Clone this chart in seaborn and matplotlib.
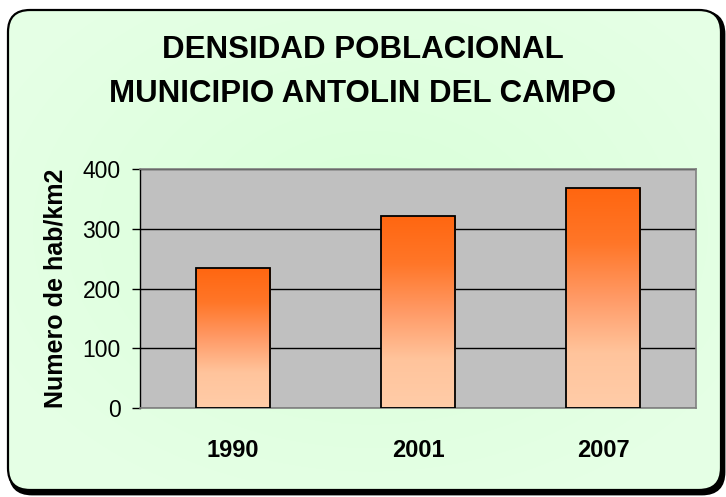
import matplotlib
matplotlib.use("Agg")
import matplotlib.pyplot as plt
import numpy as np
import pandas as pd
import seaborn as sns
from matplotlib.patches import FancyBboxPatch
from matplotlib.colors import LinearSegmentedColormap

# data
years = ["1990", "2001", "2007"]
densidad = [235, 322, 368]
y_ticks = [0, 100, 200, 300, 400]

title = "DENSIDAD POBLACIONAL\nMUNICIPIO ANTOLIN DEL CAMPO"
y_label = "Numero de hab/km2"

sns.set_theme(style="white")
plt.rcParams['font.family'] = ['Liberation Sans', 'DejaVu Sans']
plt.rcParams['text.color'] = 'black'
plt.rcParams['axes.labelcolor'] = 'black'
plt.rcParams['xtick.color'] = 'black'
plt.rcParams['ytick.color'] = 'black'

W, H = 726, 497
fig = plt.figure(figsize=(W / 100, H / 100), dpi=100)
fig.patch.set_facecolor("white")

# background: rounded frame with soft green radial gradient
bg = fig.add_axes([0, 0, 1, 1], zorder=-10)
bg.set_xlim(0, W)
bg.set_ylim(H, 0)
bg.axis("off")
yy, xx = np.mgrid[0:H, 0:W]
r = np.sqrt(((xx - 370) / 420.0) ** 2 + ((yy - 230) / 300.0) ** 2)
r = np.clip(r, 0, 1)
c_in = np.array([0.85, 1.0, 0.85])
c_out = np.array([0.90, 1.0, 0.90])
img = c_in[None, None, :] * (1 - r[..., None]) + c_out[None, None, :] * r[..., None]
shadow = FancyBboxPatch((10, 12), 714, 482, boxstyle="round,pad=0,rounding_size=22",
                        facecolor="black", edgecolor="black", lw=2)
bg.add_patch(shadow)
frame = FancyBboxPatch((8, 10), 713, 480, boxstyle="round,pad=0,rounding_size=22",
                       facecolor="none", edgecolor="black", lw=1.6, zorder=3)
bg.add_patch(frame)
im = bg.imshow(img, extent=(0, W, H, 0), zorder=2, aspect="auto")
clipbox = FancyBboxPatch((8, 10), 713, 480, boxstyle="round,pad=0,rounding_size=22",
                         facecolor="none", edgecolor="none", transform=bg.transData)
im.set_clip_path(clipbox)

fig.text(0.5, 1 - 72 / H, title, ha="center", va="center", fontsize=22.5,
         fontweight="bold", linespacing=1.6)

# plot area
ax = fig.add_axes([140 / W, 1 - 408 / H, (696 - 140) / W, (408 - 169) / H])
ax.set_facecolor("#C0C0C0")

df = pd.DataFrame({"year": years, "densidad": densidad})
sns.barplot(data=df, x="year", y="densidad", ax=ax, width=0.4,
            color="#FF6611", edgecolor="black", linewidth=1.3, zorder=3)

ax.set_ylim(0, 400)
ax.set_yticks(y_ticks)
ax.yaxis.grid(True, color="black", linewidth=1, zorder=1)
ax.set_axisbelow(True)

# vertical orange gradient inside each bar
grad = LinearSegmentedColormap.from_list("bar", ["#FFCCA8", "#FFC49C", "#FF9A66", "#FF7628", "#FF6610"])
g = np.linspace(0, 1, 256).reshape(-1, 1)
for p in ax.patches:
    x0, w = p.get_x(), p.get_width()
    h = p.get_height()
    p.set_facecolor("none")
    gi = ax.imshow(g, cmap=grad, origin="lower", aspect="auto",
                   extent=(x0, x0 + w, 0, h), zorder=2.5)
    gi.set_clip_path(p)
ax.set_xlim(-0.5, 2.5)
ax.set_ylim(0, 400)

for side in ["top", "right", "bottom"]:
    ax.spines[side].set_color("#808080")
    ax.spines[side].set_linewidth(1.2)
ax.spines["left"].set_color("black")
ax.spines["left"].set_linewidth(1)

ax.tick_params(axis="y", left=True, length=6, width=1, color="black",
               labelsize=16.5, pad=8)
ax.tick_params(axis="x", bottom=False, labelsize=17, pad=16)
for lab in ax.get_xticklabels():
    lab.set_fontweight("bold")
ax.set_xlabel("")
ax.set_ylabel(y_label, fontsize=18, fontweight="bold", labelpad=11)

fig.savefig("out.png", dpi=100)
